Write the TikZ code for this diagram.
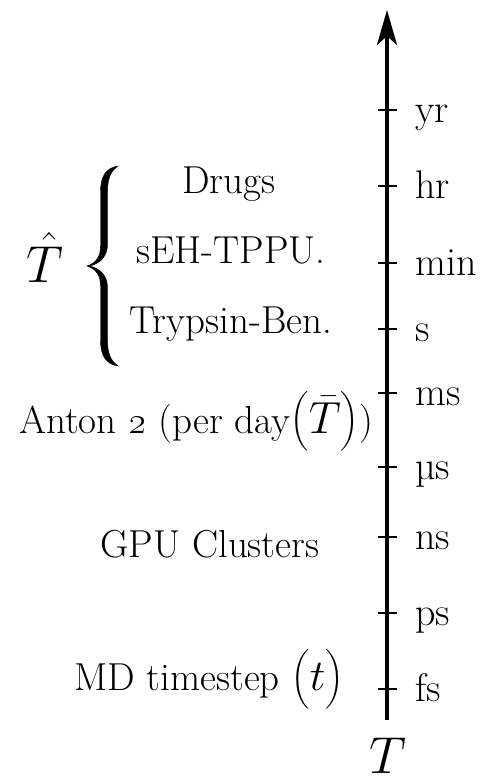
\RequirePackage{fix-cm}
\documentclass[tikz,border=0pt]{standalone}
\usepackage{amsmath}
\usetikzlibrary{arrows.meta}

\tikzset{
  lbl/.style={font=\fontsize{39}{45}\selectfont, inner sep=0pt, anchor=base},
  unitlbl/.style={lbl, font=\fontsize{40}{46}\selectfont, anchor=base west},
  mathlbl/.style={font=\fontsize{52}{58}\selectfont, inner sep=0pt, anchor=base},
  axisline/.style={line width=4pt, -{Stealth[length=35pt,width=20pt,inset=9pt]}},
  tickmark/.style={line width=2pt},
  bracefill/.style={fill=black, draw=black, line width=0.4pt},
}

\begin{document}
\begin{tikzpicture}[x=1pt,y=-1pt]
\useasboundingbox (0,0) rectangle (489,776);

% time axis
\coordinate (axbot) at (387,720);
\coordinate (axtop) at (387,10);
\draw[axisline] (axbot) -- (axtop);

% ticks and unit labels
\foreach \name/\y/\txt in {yr/110/yr, hr/186/hr, min/263/min, s/329/s, ms/393/ms,
                           mus/467/µs, ns/537/ns, ps/613/ps, fs/689/fs}{
  \coordinate (t-\name) at (387,\y);
  \draw[tickmark] ([xshift=-9.5pt]t-\name) -- ([xshift=9.5pt]t-\name);
  \node[unitlbl] (l-\name) at (415,\y+12) {\txt};
}

% drug systems grouped by a brace
\node[lbl] (drugs) at (229,193) {Drugs};
\node[lbl] (seh)   at (231,263) {sEH-TPPU.};
\node[lbl] (tryp)  at (231,333) {Trypsin-Ben.};

% tapered curly brace
\path[bracefill]
  (118,166) .. controls (106,168) and (100.5,176) .. (100.5,192)
  -- (100.5,246) .. controls (100.5,257) and (96,263) .. (87,266)
  .. controls (96,269) and (100.5,275) .. (100.5,286)
  -- (100.5,340) .. controls (100.5,356) and (106,364) .. (118,366)
  .. controls (111,361) and (107.5,354) .. (107.5,340)
  -- (107.5,288) .. controls (107.5,276) and (101,269) .. (90,266)
  .. controls (101,263) and (107.5,256) .. (107.5,244)
  -- (107.5,192) .. controls (107.5,178) and (111,171) .. (118,166) -- cycle;
\node[mathlbl] (that) at (45,282) {$\hat{T}$};

% hardware throughput
\node[lbl] (anton) at (196,433)
  {Anton \oldstylenums{2} (per day{\fontsize{45}{51}\selectfont$\bigl(\bar{T}\bigr)$})};
\node[lbl] (gpu) at (210,557) {GPU Clusters};
\node[lbl] (md)  at (209,690)
  {MD timestep {\fontsize{44}{50}\selectfont$\bigl(t\bigr)$}};

% axis variable
\node[mathlbl] (Tax) at (388,773) {$T$};
\end{tikzpicture}
\end{document}
